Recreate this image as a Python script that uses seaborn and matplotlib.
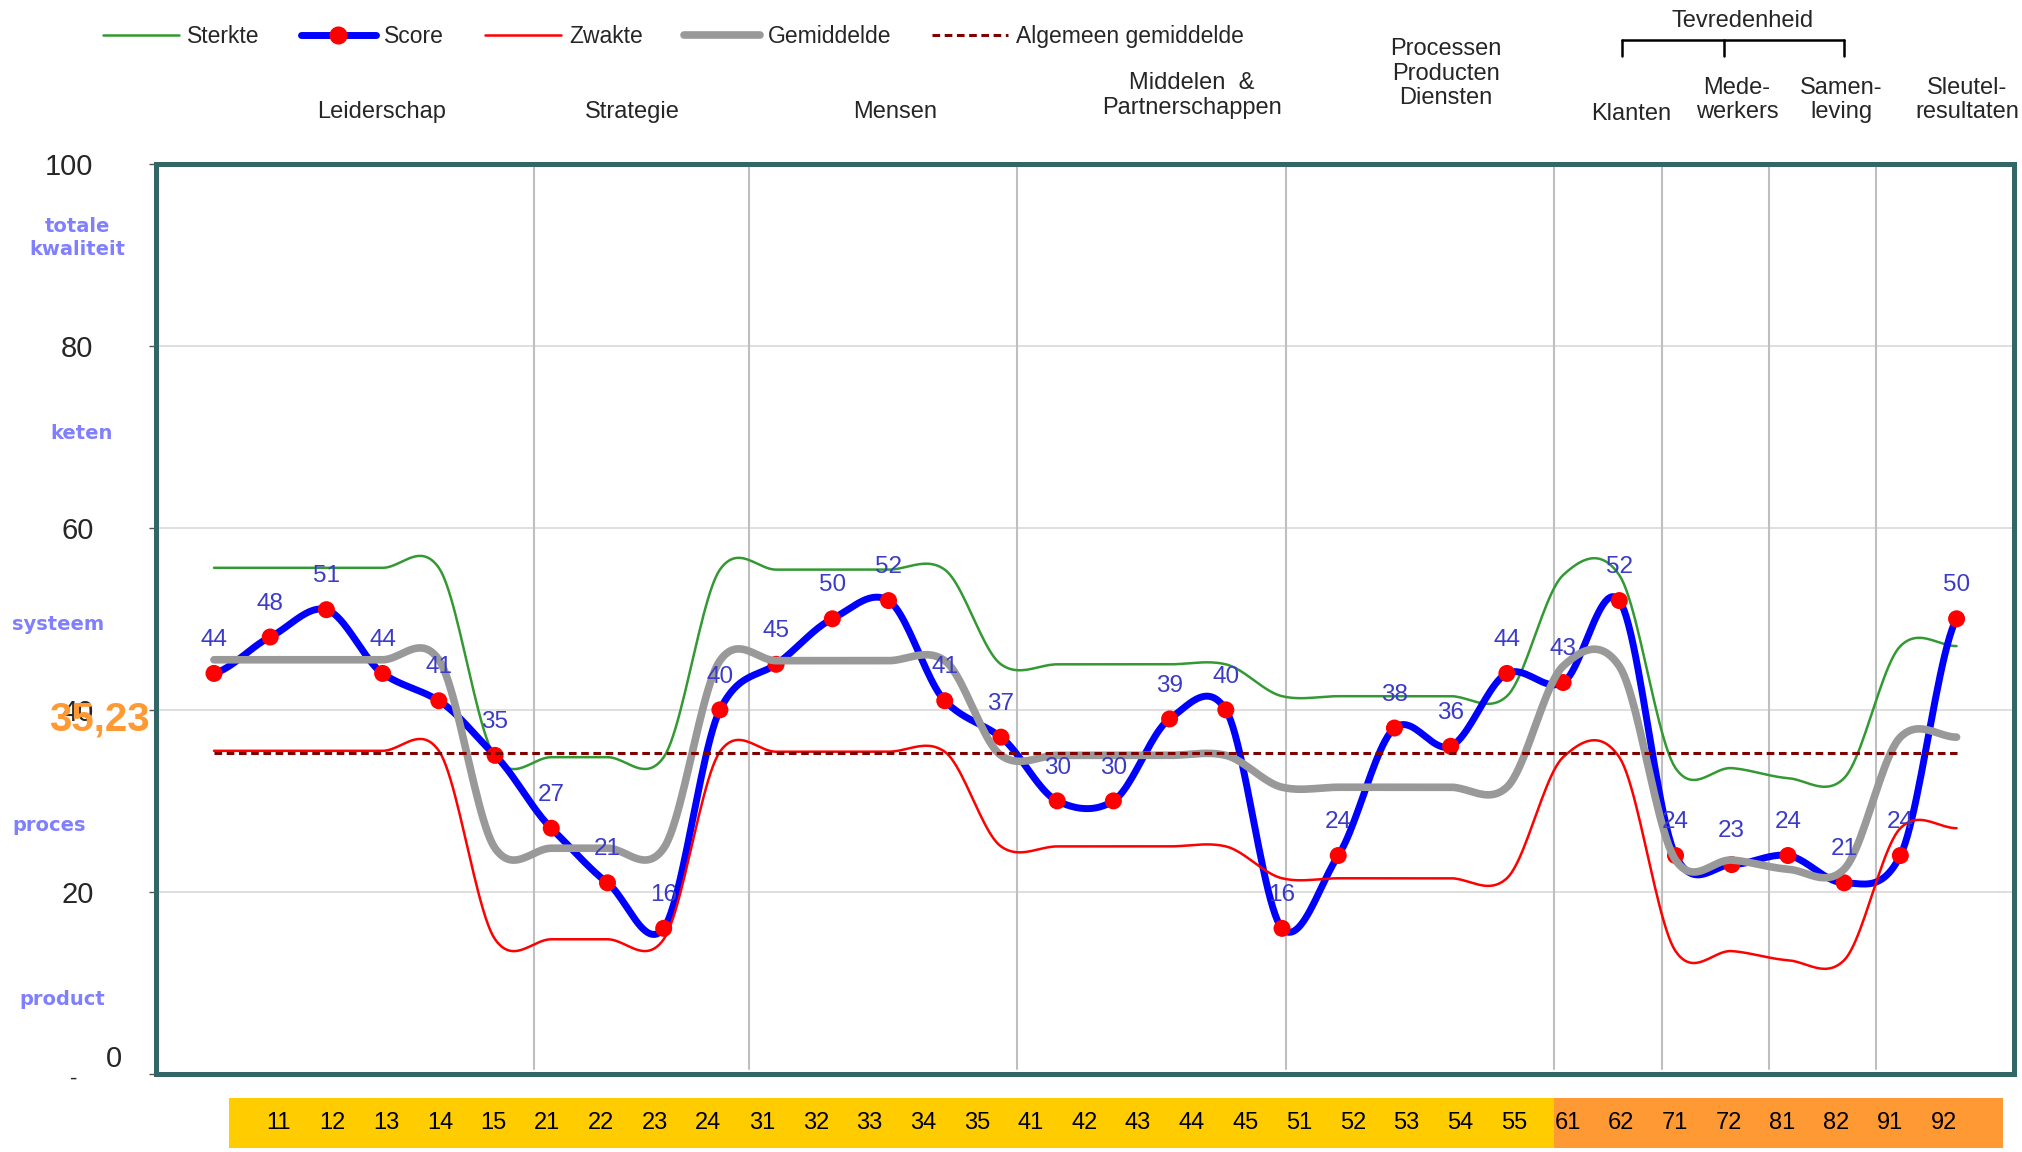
import numpy as np
import pandas as pd
import matplotlib.pyplot as plt
import matplotlib.transforms as mtransforms
from matplotlib.lines import Line2D
import seaborn as sns

sns.set_style("white")
plt.rcParams['font.family'] = ['Liberation Sans', 'DejaVu Sans']

# criteria (bottom band) and series, in chart order
criteria = ['11', '12', '13', '14', '15', '21', '22', '23', '24', '31', '32', '33', '34', '35',
            '41', '42', '43', '44', '45', '51', '52', '53', '54', '55', '61', '62', '71', '72',
            '81', '82', '91', '92']
score = [44, 48, 51, 44, 41, 35, 27, 21, 16, 40, 45, 50, 52, 41, 37, 30, 30, 39, 40, 16,
         24, 38, 36, 44, 43, 52, 24, 23, 24, 21, 24, 50]
gemiddelde = [45.5, 45.5, 45.5, 45.5, 45.5, 24.8, 24.8, 24.8, 24.8, 45.4, 45.4, 45.4, 45.4, 45.4,
              35.0, 35.0, 35.0, 35.0, 35.0, 31.5, 31.5, 31.5, 31.5, 31.5, 44.8, 44.8, 23.5, 23.5,
              22.5, 22.5, 37.0, 37.0]
sterkte = [55.6, 55.6, 55.6, 55.6, 55.6, 34.8, 34.8, 34.8, 34.8, 55.4, 55.4, 55.4, 55.4, 55.4,
           45.0, 45.0, 45.0, 45.0, 45.0, 41.5, 41.5, 41.5, 41.5, 41.5, 54.8, 54.8, 33.6, 33.6,
           32.5, 32.5, 47.0, 47.0]
zwakte = [35.5, 35.5, 35.5, 35.5, 35.5, 14.8, 14.8, 14.8, 14.8, 35.4, 35.4, 35.4, 35.4, 35.4,
          25.0, 25.0, 25.0, 25.0, 25.0, 21.5, 21.5, 21.5, 21.5, 21.5, 34.8, 34.8, 13.5, 13.5,
          12.5, 12.5, 27.0, 27.0]
algemeen = 35.23
levels = ['product', 'proces', 'systeem', 'keten', 'totale\nkwaliteit']
level_y = [8.2, 27.3, 49.4, 70.3, 91.8]


def smooth(values, n=24, k=0.85):
    # Excel-like smoothed line (Catmull-Rom through the points)
    y = np.asarray(values, float)
    m = np.empty_like(y)
    m[1:-1] = (y[2:] - y[:-2]) / 2
    m[0] = (y[1] - y[0]) / 2
    m[-1] = (y[-1] - y[-2]) / 2
    m *= k
    t = np.linspace(0, 1, n, endpoint=False)
    h00 = 2 * t**3 - 3 * t**2 + 1
    h10 = t**3 - 2 * t**2 + t
    h01 = -2 * t**3 + 3 * t**2
    h11 = t**3 - t**2
    xs, ys = [], []
    for i in range(len(y) - 1):
        xs.append(i + t)
        ys.append(h00 * y[i] + h10 * m[i] + h01 * y[i + 1] + h11 * m[i + 1])
    xs.append([len(y) - 1])
    ys.append([y[-1]])
    return pd.DataFrame({'x': np.concatenate(xs), 'y': np.concatenate(ys)})


fig = plt.figure(figsize=(20.22, 11.52), dpi=100)
ax = fig.add_axes([0.0772, 0.0677, 0.9188, 0.7903])
band = fig.add_axes([0.1135, 0.0034, 0.8769, 0.0437])

teal = '#336666'
label_blue = '#3B3BC8'

# bottom band with criteria numbers
band.set_xlim(-1.17, 31.85)
band.set_ylim(0, 1)
band.axis('off')
first_orange = next(i for i, c in enumerate(criteria) if int(c[0]) >= 6)
band.axvspan(-1.17, first_orange - 0.5, color='#FFCC00', lw=0)
band.axvspan(first_orange - 0.5, 31.85, color='#FF9933', lw=0)
for i, c in enumerate(criteria):
    band.text(i - 0.25, 0.5, c, ha='center', va='center', fontsize=17, color='black')

# main chart
ax.set_xlim(-1.03, 32.02)
ax.set_ylim(0, 100)
ax.set_xticks([])
ax.set_yticks([0, 20, 40, 60, 80, 100])
ax.set_yticklabels(['', '20', '40', '60', '80', '100'], fontsize=21)
ax.tick_params(axis='y', direction='out', length=5, width=1, color='#555555', pad=40, left=True)
for y in [20, 40, 60, 80]:
    ax.axhline(y, color='#D9D9D9', lw=1.2, zorder=0)
for s in ax.spines.values():
    s.set_color(teal)
    s.set_linewidth(3.6)

# group separators, positioned on the criteria band
sep = mtransforms.blended_transform_factory(band.transData, ax.transAxes)
for i in range(len(criteria) - 1):
    if criteria[i][0] != criteria[i + 1][0]:
        ax.plot([i + 0.5, i + 0.5], [0.005, 1], transform=sep, color='#BFBFBF', lw=1.5, zorder=1)

sns.lineplot(data=smooth(sterkte), x='x', y='y', sort=False, estimator=None,
             color='#339933', lw=1.8, ax=ax, zorder=2)
sns.lineplot(data=smooth(score), x='x', y='y', sort=False, estimator=None,
             color='#0000FF', lw=5, ax=ax, zorder=3)
sns.scatterplot(x=np.arange(len(score)), y=score, color='#FF0000', s=150, edgecolor='none',
                ax=ax, zorder=4)
sns.lineplot(data=smooth(zwakte), x='x', y='y', sort=False, estimator=None,
             color='#FF0000', lw=1.8, ax=ax, zorder=5)
sns.lineplot(data=smooth(gemiddelde), x='x', y='y', sort=False, estimator=None,
             color='#999999', lw=5.5, ax=ax, zorder=6)
ax.plot([0, len(score) - 1], [algemeen, algemeen], color='#800000', lw=2.2,
        dashes=(2.5, 1.5), zorder=7)
ax.set_xlabel('')
ax.set_ylabel('')

for i, v in enumerate(score):
    ax.annotate(str(v), (i, v), xytext=(0, 24), textcoords='offset points', ha='center',
                va='center', fontsize=17.5, color=label_blue, zorder=8)

# left side labels
ytr = ax.get_yaxis_transform()
for lab, y, x in zip(levels, level_y, [-0.0507, -0.0576, -0.0528, -0.0403, -0.0423]):
    ax.text(x, y, lab, transform=ytr, ha='center', va='center', fontsize=14,
            fontweight='bold', color='#8080FF', family='DejaVu Sans', linespacing=1.3)
ax.text(-0.0229, 1.6, '0', transform=ytr, ha='center', va='center', fontsize=21)
ax.text(-0.0444, -0.6, '-', transform=ytr, ha='center', va='center', fontsize=16)
ax.text(-0.0307, 38.9, f'{algemeen:.2f}'.replace('.', ','), transform=ytr, ha='center',
        va='center', fontsize=29, fontweight='bold', color='#FF9933', zorder=9, clip_on=False)

# headers
hdr = dict(ha='center', va='center', fontsize=17, linespacing=1.15)
fig.text(0.1888, 0.903, 'Leiderschap', **hdr)
fig.text(0.3125, 0.903, 'Strategie', **hdr)
fig.text(0.4426, 0.903, 'Mensen', **hdr)
fig.text(0.5893, 0.917, 'Middelen  &\nPartnerschappen', **hdr)
fig.text(0.7149, 0.936, 'Processen\nProducten\nDiensten', **hdr)
fig.text(0.8067, 0.901, 'Klanten', **hdr)
fig.text(0.859, 0.913, 'Mede-\nwerkers', **hdr)
fig.text(0.9106, 0.913, 'Samen-\nleving', **hdr)
fig.text(0.973, 0.913, 'Sleutel-\nresultaten', **hdr)
fig.text(0.8616, 0.982, 'Tevredenheid', **hdr)
fig.add_artist(Line2D([0.8023, 0.912], [0.965, 0.965], color='black', lw=1.8))
for x in [0.8023, 0.8526, 0.912]:
    fig.add_artist(Line2D([x, x], [0.965, 0.951], color='black', lw=1.8))

handles = [
    Line2D([], [], color='#339933', lw=1.8),
    Line2D([], [], color='#0000FF', lw=5, marker='o', markersize=12,
           markerfacecolor='#FF0000', markeredgecolor='#FF0000'),
    Line2D([], [], color='#FF0000', lw=1.8),
    Line2D([], [], color='#999999', lw=5.5),
    Line2D([], [], color='#800000', lw=2.2, dashes=(2.5, 1.5)),
]
fig.legend(handles, ['Sterkte', 'Score', 'Zwakte', 'Gemiddelde', 'Algemeen gemiddelde'],
           loc='center left', bbox_to_anchor=(0.051, 0.968), ncol=5, frameon=False,
           borderpad=0, borderaxespad=0, handlelength=3.3, handletextpad=0.35,
           columnspacing=1.8, fontsize=16.5)

fig.savefig('out.png', dpi=100)
